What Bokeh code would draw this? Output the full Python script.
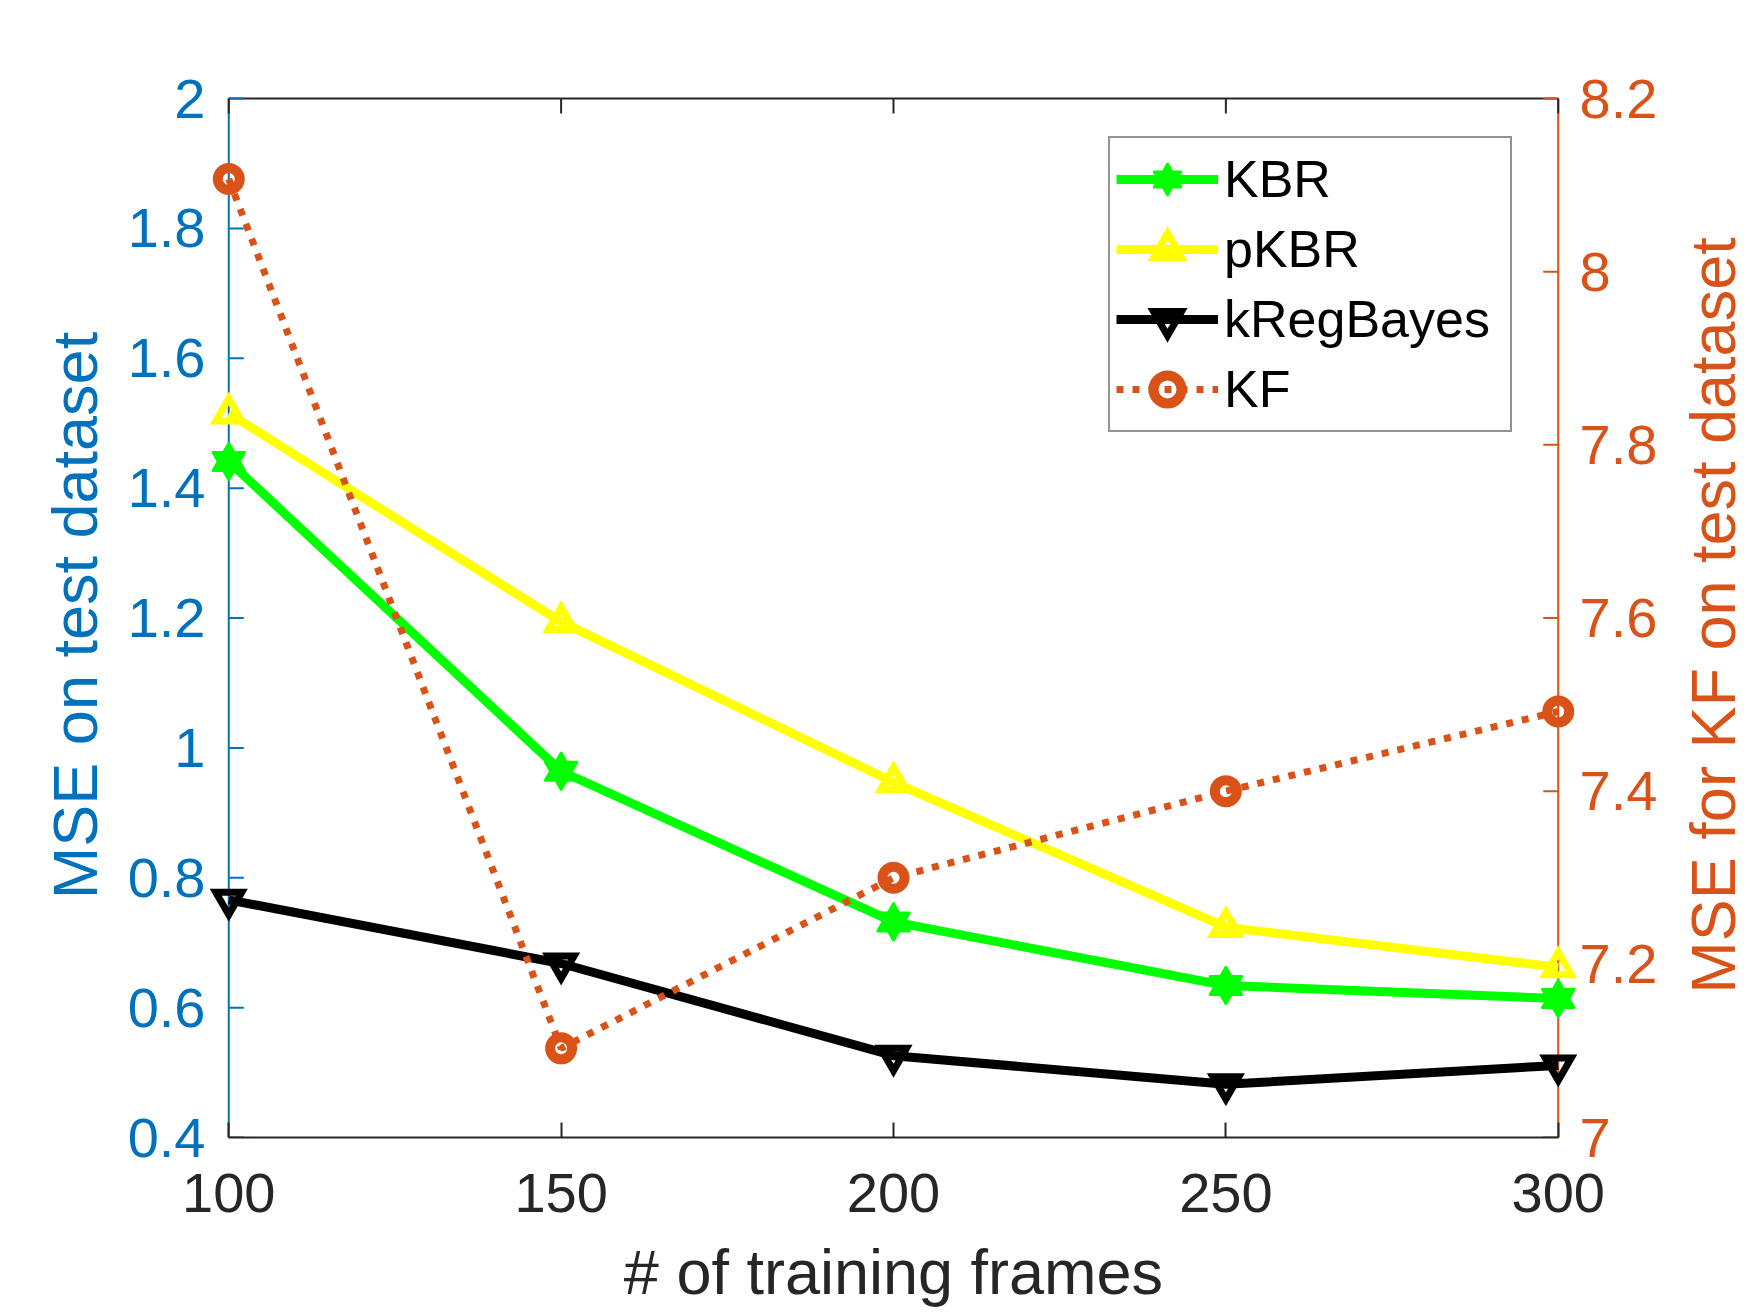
import math
from bokeh.plotting import figure
from bokeh.layouts import row
from bokeh.models import (Range1d, LinearAxis, FixedTicker, Legend, LegendItem,
                          ColumnDataSource)
from bokeh.embed import file_html
from bokeh.resources import INLINE

# ---------------- data ----------------
frames = [100, 150, 200, 250, 300]
kbr = [1.441, 0.964, 0.732, 0.634, 0.614]
pkbr = [1.515, 1.194, 0.947, 0.724, 0.662]
kregbayes = [0.766, 0.668, 0.526, 0.482, 0.511]
kf = [8.107, 7.103, 7.300, 7.400, 7.492]

x_ticks = [100, 150, 200, 250, 300]
x_tick_labels = ["100", "150", "200", "250", "300"]
left_ticks = [0.4, 0.6, 0.8, 1.0, 1.2, 1.4, 1.6, 1.8, 2.0]
left_tick_labels = ["0.4", "0.6", "0.8", "1", "1.2", "1.4", "1.6", "1.8", "2"]
right_ticks = [7.0, 7.2, 7.4, 7.6, 7.8, 8.0, 8.2]
right_tick_labels = ["7", "7.2", "7.4", "7.6", "7.8", "8", "8.2"]

series_names = ["KBR", "pKBR", "kRegBayes", "KF"]
x_label = "# of training frames"
left_label = "MSE on test dataset"
right_label = "MSE for KF on test dataset"

# ---------------- style ----------------
FONT = "Liberation Sans"
BLUE = "#0072BD"
ORANGE = "#D95319"
DARK = "#262626"
GREEN = "#00FF00"
YELLOW = "#FFFF00"

H = 1313
W_MAIN = 1660
W_SIDE = 90
XPAD = 3.5          # room so that edge markers are not cut
YPAD_L = 0.0077     # small room above the top edge line
YPAD_R = YPAD_L * 0.75
TICK = 15
BORDER_TOP = 93
BORDER_BOTTOM = 176

xmin, xmax = x_ticks[0], x_ticks[-1]
ymin, ymax = left_ticks[0], left_ticks[-1]
rmin, rmax = right_ticks[0], right_ticks[-1]

p = figure(width=W_MAIN, height=H, output_backend="svg", toolbar_location=None,
           x_range=Range1d(xmin - XPAD, xmax + XPAD),
           y_range=Range1d(ymin, ymax + YPAD_L),
           x_axis_location=None, y_axis_location=None,
           min_border_left=205, min_border_right=79,
           min_border_top=BORDER_TOP, min_border_bottom=BORDER_BOTTOM)
p.extra_y_ranges = {"kf": Range1d(rmin, rmax + YPAD_R)}
p.outline_line_color = None
p.background_fill_color = "white"
p.border_fill_color = "white"
p.grid.visible = False


def style_axis(ax, color):
    ax.axis_line_color = color
    ax.axis_line_width = 2
    ax.major_tick_line_color = color
    ax.major_tick_line_width = 2
    ax.major_tick_in = TICK
    ax.major_tick_out = 0
    ax.minor_tick_in = 0
    ax.minor_tick_out = 0
    ax.minor_tick_line_color = None
    ax.major_label_text_color = color
    ax.major_label_text_font = FONT
    ax.major_label_text_font_size = "56px"
    ax.axis_label_text_color = color
    ax.axis_label_text_font = FONT
    ax.axis_label_text_font_size = "63px"
    ax.axis_label_text_font_style = "normal"


# bottom axis (line, ticks, labels, title)
ax_b = LinearAxis(ticker=FixedTicker(ticks=x_ticks), bounds=(xmin, xmax),
                  major_label_overrides=dict(zip(x_ticks, x_tick_labels)),
                  axis_label=x_label)
style_axis(ax_b, DARK)
ax_b.major_label_standoff = 36
ax_b.axis_label_standoff = 22
p.add_layout(ax_b, "below")

# left axis: labels and title (its line and ticks are drawn at x = 100 below)
ax_l = LinearAxis(ticker=FixedTicker(ticks=left_ticks),
                  major_label_overrides=dict(zip(left_ticks, left_tick_labels)),
                  axis_label=left_label)
style_axis(ax_l, BLUE)
ax_l.axis_line_color = None
ax_l.major_tick_line_color = None
ax_l.major_tick_in = 0
ax_l.major_label_standoff = 0
ax_l.axis_label_standoff = 15
p.add_layout(ax_l, "left")

# right axis: tick labels only (title lives in the side figure)
ax_r = LinearAxis(y_range_name="kf", ticker=FixedTicker(ticks=right_ticks),
                  major_label_overrides=dict(zip(right_ticks, right_tick_labels)))
style_axis(ax_r, ORANGE)
ax_r.axis_line_color = None
ax_r.major_tick_line_color = None
ax_r.major_tick_in = 0
ax_r.major_label_standoff = -2
p.add_layout(ax_r, "right")

# box edges and inward ticks
p.segment(x0=[xmin], y0=[ymin], x1=[xmin], y1=[ymax], line_color=BLUE, line_width=2)
p.segment(x0=[xmax], y0=[ymin], x1=[xmax], y1=[ymax], line_color=ORANGE, line_width=2)
p.segment(x0=[xmin], y0=[ymax], x1=[xmax], y1=[ymax], line_color=DARK, line_width=2)
p.ray(x=[xmin] * len(left_ticks), y=left_ticks, length=TICK, length_units="screen",
      angle=0, line_color=BLUE, line_width=2)
p.ray(x=[xmax] * len(right_ticks), y=right_ticks, y_range_name="kf", length=TICK,
      length_units="screen", angle=math.pi, line_color=ORANGE, line_width=2)
p.ray(x=x_ticks, y=[ymax] * len(x_ticks), length=TICK, length_units="screen",
      angle=-math.pi / 2, line_color=DARK, line_width=2)

# ---------------- series ----------------
src = ColumnDataSource(dict(x=frames, kbr=kbr, pkbr=pkbr, kreg=kregbayes, kf=kf))

r1l = p.line("x", "kbr", source=src, line_color=GREEN, line_width=9)
r1a = p.scatter("x", "kbr", source=src, marker="triangle", size=33,
                fill_color=GREEN, line_color=GREEN, line_width=2)
r1b = p.scatter("x", "kbr", source=src, marker="inverted_triangle", size=33,
                fill_color=GREEN, line_color=GREEN, line_width=2)

r2l = p.line("x", "pkbr", source=src, line_color=YELLOW, line_width=9)
r2m = p.scatter("x", "pkbr", source=src, marker="triangle", size=26,
                fill_color=None, line_color=YELLOW, line_width=7, line_join="miter")

r3l = p.line("x", "kreg", source=src, line_color="black", line_width=9)
r3m = p.scatter("x", "kreg", source=src, marker="inverted_triangle", size=26,
                fill_color=None, line_color="black", line_width=7, line_join="miter")

r4l = p.line("x", "kf", source=src, y_range_name="kf", line_color=ORANGE,
             line_width=7, line_dash="7 9")
r4m = p.scatter("x", "kf", source=src, y_range_name="kf", marker="circle", size=22,
                fill_color=None, line_color=ORANGE, line_width=10)

legend = Legend(items=[
    LegendItem(label=series_names[0], renderers=[r1l, r1a, r1b]),
    LegendItem(label=series_names[1], renderers=[r2l, r2m]),
    LegendItem(label=series_names[2], renderers=[r3l, r3m]),
    LegendItem(label=series_names[3], renderers=[r4l, r4m]),
], location=(903, 705), margin=0, padding=6, spacing=0,
    glyph_width=102, glyph_height=70, label_height=70, label_width=280,
    label_standoff=6, label_text_font=FONT, label_text_font_size="52px",
    label_text_color="black", border_line_color=DARK, border_line_width=2,
    background_fill_color="white", background_fill_alpha=1.0)
p.add_layout(legend)

# ---------------- side strip carrying the right-hand axis title ----------------
side = figure(width=W_SIDE, height=H, output_backend="svg", toolbar_location=None,
              x_range=Range1d(0, 1), y_range=Range1d(0, 1),
              x_axis_location=None, y_axis_location=None,
              min_border_left=87, min_border_right=0,
              min_border_top=BORDER_TOP, min_border_bottom=BORDER_BOTTOM)
side.outline_line_color = None
side.grid.visible = False
side.background_fill_color = "white"
side.border_fill_color = "white"
ax_rt = LinearAxis(ticker=FixedTicker(ticks=[]), axis_label=right_label)
style_axis(ax_rt, ORANGE)
ax_rt.axis_line_color = None
ax_rt.major_tick_line_color = None
ax_rt.major_tick_in = 0
ax_rt.major_label_standoff = 0
ax_rt.axis_label_standoff = 0
side.add_layout(ax_rt, "left")

layout = row(p, side, spacing=0)
open("out.html", "w").write(file_html(layout, INLINE))
